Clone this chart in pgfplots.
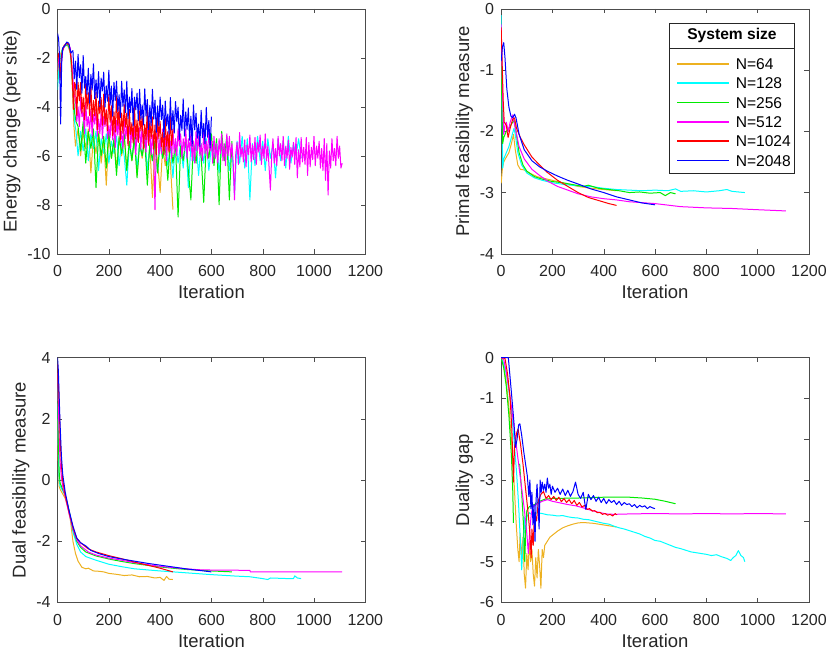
\documentclass[border=0pt]{standalone}
\usepackage{fontspec}
\setmainfont{Liberation Sans}
\usepackage{pgfplots}
\pgfplotsset{compat=1.18}

\definecolor{c64}{RGB}{237,177,32}
\definecolor{c128}{RGB}{0,255,255}
\definecolor{c256}{RGB}{0,235,0}
\definecolor{c512}{RGB}{255,0,255}
\definecolor{c1024}{RGB}{255,0,0}
\definecolor{c2048}{RGB}{0,0,255}
\colorlet{axgray}{black!70}
\colorlet{txtgray}{black!85}
\newcommand\legfont{\fontsize{15.6}{18}\selectfont}

\pgfplotsset{
  panel/.style={
    width=308pt, height=245pt, scale only axis,
    xmin=0, xmax=1200, xtick={0,200,...,1200},
    tick align=inside, major tick length=4.5pt,
    axis line style={axgray}, every tick/.style={axgray},
    tick label style={font=\fontsize{16}{19}\selectfont, text=txtgray},
    xticklabel style={yshift=-8pt},
    yticklabel style={xshift=-3.5pt},
    label style={font=\fontsize{18.5}{22}\selectfont, text=txtgray},
    xlabel={Iteration},
    xlabel style={yshift=-2pt},
    /pgf/number format/assume math mode=true,
    /pgf/number format/1000 sep={},
    every axis plot/.append style={line width=1pt, line join=round},
    unbounded coords=jump,
  }
}

\begin{document}
\begin{tikzpicture}

% ---------------- energy change ----------------
\begin{axis}[panel, at={(0pt,349pt)},
  ymin=-10, ymax=0, ytick={-10,-8,...,0},
  ylabel={Energy change (per site)}]
\addplot[c64] coordinates {(0,-3.0)(5,-2.2)(10,-1.9)(20,-1.6)(30,-1.5)(40,-1.5)(50,-1.8)(58,-3.2)(64,-4.8)
(70,-5.6)(80,-4.9)(90,-6.0)(100,-5.0)(110,-5.7)(120,-4.9)(130,-6.7)(140,-5.2)(150,-5.9)(160,-5.0)
(170,-6.3)(180,-5.3)(190,-7.2)(200,-5.2)(210,-6.1)(220,-5.4)(230,-6.5)(240,-5.3)(250,-6.0)(260,-5.2)
(270,-6.6)(280,-5.4)(290,-6.2)(300,-5.3)(310,-6.8)(320,-5.5)(330,-6.1)(340,-5.4)(350,-6.6)(360,-5.6)
(370,-7.7)(380,-5.5)(390,-6.2)(400,-7.5)(410,-5.6)(420,-6.4)(430,-5.5)(440,-6.3)(450,-8.2)};
\addplot[c128] coordinates {(0,-3.3)(5,-2.5)(10,-2.0)(20,-1.6)(30,-1.5)(40,-1.45)(50,-1.7)(58,-3.0)(66,-4.6)(72,-5.0)
(80,-6.0)(90,-5.0)(100,-5.8)(110,-4.9)(120,-6.2)(130,-5.1)(140,-5.7)(150,-5.0)(160,-6.6)(170,-5.3)
(180,-5.9)(190,-5.1)(200,-6.3)(210,-5.4)(220,-5.9)(230,-5.2)(240,-6.4)(250,-5.4)(260,-6.0)(270,-7.2)
(280,-5.5)(290,-6.1)(300,-5.3)(310,-6.5)(320,-5.5)(330,-6.0)(340,-5.2)(350,-6.6)(360,-5.6)(370,-6.2)
(380,-5.4)(390,-6.7)(400,-5.5)(410,-6.1)(420,-5.3)(430,-6.4)(440,-5.6)(450,-6.9)(460,-5.4)(470,-6.3)
(480,-5.5)(490,-6.5)(500,-5.3)(510,-7.3)(520,-5.6)(530,-6.2)(540,-5.4)(550,-6.8)(560,-5.5)(570,-6.3)
(580,-5.3)(590,-6.6)(600,-5.6)(610,-6.2)(620,-5.4)(630,-6.7)(640,-5.5)(650,-6.1)(660,-5.3)(670,-6.6)
(680,-5.6)(690,-7.6)(700,-5.4)(710,-6.3)(720,-5.2)(730,-6.5)(740,-5.3)(750,-7.8)(760,-5.5)(770,-6.4)
(780,-5.2)(790,-6.2)(800,-5.4)(810,-6.6)(820,-5.3)(830,-6.1)(840,-5.5)(850,-6.9)(860,-5.3)(870,-6.2)
(880,-5.4)(890,-6.5)(900,-5.2)(910,-6.3)(920,-5.5)(930,-6.0)(940,-5.3)(950,-6.1)};
\addplot[c256] coordinates {(0,-2.4)(5,-2.0)(10,-2.8)(18,-1.7)(28,-1.5)(40,-1.45)(50,-1.7)(58,-2.8)(66,-4.2)(72,-4.6)
(80,-4.8)(90,-5.8)(100,-4.6)(110,-6.3)(120,-5.0)(130,-5.7)(140,-4.9)(150,-7.3)(160,-5.1)(170,-6.0)
(180,-5.2)(190,-6.5)(200,-5.0)(210,-6.1)(220,-5.3)(230,-6.8)(240,-5.2)(250,-5.9)(260,-5.1)(270,-6.6)
(280,-5.4)(290,-6.2)(300,-5.2)(310,-6.9)(320,-5.5)(330,-6.0)(340,-5.3)(350,-7.2)(360,-5.5)(370,-6.2)
(380,-5.4)(390,-6.7)(400,-5.3)(410,-6.1)(420,-5.6)(430,-7.0)(440,-5.4)(450,-6.3)(460,-5.5)(470,-8.5)
(480,-5.6)(490,-6.2)(500,-5.3)(510,-6.6)(520,-7.8)(530,-5.4)(540,-6.3)(550,-5.2)(560,-6.0)(570,-7.9)
(580,-5.5)(590,-6.1)(600,-5.1)(610,-6.4)(620,-5.3)(630,-8.0)(640,-5.0)(650,-6.2)(660,-5.2)(670,-7.8)(680,-5.4)};
\addplot[c512] coordinates {(0,-2.5)(6,-1.9)(12,-2.6)(20,-1.7)(30,-1.45)(40,-1.4)(50,-1.6)(58,-2.6)(65,-3.5)
(70,-3.7)(75,-4.6)(80,-4.0)(85,-4.8)(90,-3.6)(95,-4.4)(100,-4.2)(105,-5.1)(110,-3.8)(115,-4.8)
(120,-4.4)(125,-5.0)(130,-4.1)(135,-5.2)(140,-4.3)(145,-4.7)(150,-4.1)(155,-5.2)(160,-4.5)(165,-5.1)
(170,-4.2)(175,-5.3)(180,-4.4)(185,-4.8)(190,-4.1)(195,-5.3)(200,-4.75)(205,-5.25)(210,-4.25)(215,-5.35)
(220,-4.75)(225,-5.65)(230,-4.55)(235,-5.15)(240,-4.45)(245,-5.45)(250,-5.0)(255,-5.7)(260,-4.5)(265,-5.3)
(270,-4.8)(275,-5.5)(280,-4.5)(285,-5.7)(290,-4.9)(295,-5.4)(300,-4.75)(305,-5.95)(310,-5.05)(315,-5.45)
(320,-4.85)(325,-5.75)(330,-4.65)(335,-5.65)(340,-5.15)(345,-5.85)(350,-4.75)(355,-5.55)(360,-5.05)(365,-5.95)
(370,-5.15)(375,-5.85)(380,-8.2)(385,-5.55)(390,-4.95)(395,-5.95)(400,-5.3)(405,-5.9)(410,-4.9)(415,-5.7)
(420,-5.2)(425,-6.2)(430,-5.0)(435,-5.8)(440,-5.4)(445,-6.1)(450,-4.9)(455,-5.9)(460,-5.3)(465,-6.0)
(470,-4.9)(475,-5.6)(480,-5.1)(485,-6.1)(490,-5.3)(495,-5.8)(500,-4.9)(505,-6.1)(510,-5.3)(515,-5.8)
(520,-5.1)(525,-6.2)(530,-5.4)(535,-6.3)(540,-5.0)(545,-5.8)(550,-5.2)(555,-6.0)(560,-5.5)(565,-6.2)
(570,-5.0)(575,-5.9)(580,-5.4)(585,-6.1)(590,-4.9)(595,-5.8)(600,-5.4)(605,-6.3)(610,-5.2)(615,-6.1)
(620,-5.5)(625,-6.3)(630,-5.3)(635,-5.9)(640,-5.1)(645,-6.2)(650,-5.5)(655,-6.4)(660,-5.1)(665,-6.0)
(670,-5.2)(675,-6.1)(680,-5.5)(685,-6.3)(690,-7.8)(695,-5.9)(700,-5.45)(705,-6.35)(710,-5.05)(715,-6.05)
(720,-5.65)(725,-6.25)(730,-5.35)(735,-6.45)(740,-5.55)(745,-5.95)(750,-5.15)(755,-6.25)(760,-5.55)(765,-6.15)
(770,-5.25)(775,-6.35)(780,-5.45)(785,-5.85)(790,-5.15)(795,-6.35)(800,-5.6)(805,-6.1)(810,-5.1)(815,-6.2)
(820,-5.6)(825,-6.5)(830,-7.4)(835,-6.0)(840,-5.3)(845,-6.3)(850,-5.7)(855,-6.4)(860,-5.2)(865,-6.0)
(870,-5.5)(875,-6.2)(880,-5.2)(885,-6.4)(890,-5.6)(895,-6.1)(900,-5.35)(905,-6.55)(910,-5.65)(915,-6.05)
(920,-5.45)(925,-6.35)(930,-5.25)(935,-6.9)(940,-5.75)(945,-6.45)(950,-5.25)(955,-6.25)(960,-5.65)(965,-6.35)
(970,-5.25)(975,-6.8)(980,-5.45)(985,-6.45)(990,-5.65)(995,-6.15)(1000,-5.2)(1005,-6.4)(1010,-5.6)(1015,-6.1)
(1020,-5.4)(1025,-6.5)(1030,-5.7)(1035,-6.6)(1040,-5.3)(1045,-7.0)(1050,-5.5)(1055,-7.6)(1060,-5.8)(1065,-6.5)
(1070,-5.3)(1075,-6.2)(1080,-5.7)(1085,-6.4)(1090,-5.2)(1095,-6.1)(1100,-5.6)(1105,-6.5)(1110,-6.3)};
\addplot[c1024] coordinates {(0,-2.0)(5,-1.8)(10,-2.9)(15,-1.9)(25,-1.5)(35,-1.4)(45,-1.45)(55,-2.2)(62,-4.1)(66,-3.0)
(70,-3.10)(75,-4.35)(80,-3.00)(85,-3.75)(90,-3.00)(95,-4.25)(100,-3.60)(105,-4.53)(110,-3.06)(115,-4.09)
(120,-3.42)(125,-4.35)(130,-3.08)(135,-4.61)(140,-3.74)(145,-4.37)(150,-3.40)(155,-4.93)(160,-3.76)(165,-4.29)
(170,-3.62)(175,-4.75)(180,-3.48)(185,-4.71)(190,-4.14)(195,-4.97)(200,-3.50)(205,-4.63)(210,-3.95)(215,-5.18)
(220,-4.20)(225,-5.03)(230,-3.55)(235,-4.78)(240,-4.00)(245,-5.33)(250,-4.25)(255,-5.08)(260,-3.90)(265,-4.83)
(270,-4.25)(275,-5.58)(280,-4.10)(285,-5.13)(290,-4.65)(295,-5.48)(300,-4.00)(305,-5.32)(310,-4.53)(315,-5.45)
(320,-4.16)(325,-4.98)(330,-4.39)(335,-5.71)(340,-4.72)(345,-5.34)(350,-4.05)(355,-5.57)(360,-4.58)(365,-5.30)
(370,-4.41)(375,-5.73)(380,-4.74)(385,-5.96)(390,-4.27)(395,-5.29)(400,-4.60)(405,-5.62)(410,-5.04)(415,-5.96)
(420,-4.48)(425,-5.60)(430,-5.02)(435,-5.84)(440,-4.36)(445,-5.58)(450,-4.90)};
\addplot[c2048] coordinates {(0,-1.0)(4,-1.2)(8,-2.0)(12,-4.7)(16,-2.2)(20,-1.6)(28,-1.5)(36,-1.35)(44,-1.4)(52,-1.8)
(60,-1.70)(65,-2.86)(70,-2.13)(75,-3.29)(80,-1.85)(85,-2.81)(90,-2.28)(95,-3.44)(100,-1.90)(105,-3.23)
(110,-2.76)(115,-3.49)(120,-2.42)(125,-3.85)(130,-2.68)(135,-3.31)(140,-2.24)(145,-3.67)(150,-2.90)(155,-3.63)
(160,-2.56)(165,-3.99)(170,-2.82)(175,-3.35)(180,-2.58)(185,-4.01)(190,-3.14)(195,-3.77)(200,-2.50)(205,-3.93)
(210,-3.15)(215,-4.38)(220,-3.00)(225,-3.73)(230,-2.95)(235,-4.18)(240,-3.50)(245,-4.43)(250,-2.95)(255,-3.98)
(260,-3.30)(265,-4.23)(270,-2.95)(275,-4.48)(280,-3.60)(285,-4.23)(290,-3.25)(295,-4.78)(300,-3.60)(305,-4.12)
(310,-3.44)(315,-4.56)(320,-3.28)(325,-4.50)(330,-3.92)(335,-4.74)(340,-3.26)(345,-4.38)(350,-3.70)(355,-4.92)
(360,-3.94)(365,-4.76)(370,-3.28)(375,-4.50)(380,-3.72)(385,-5.04)(390,-3.96)(395,-4.78)(400,-3.60)(405,-4.52)
(410,-3.93)(415,-5.25)(420,-3.76)(425,-4.78)(430,-4.29)(435,-5.11)(440,-3.62)(445,-4.94)(450,-4.15)(455,-5.07)
(460,-3.78)(465,-4.60)(470,-4.01)(475,-5.33)(480,-4.34)(485,-4.96)(490,-3.67)(495,-5.19)(500,-4.20)(505,-4.92)
(510,-4.04)(515,-5.36)(520,-4.38)(525,-5.60)(530,-3.92)(535,-4.94)(540,-4.26)(545,-5.28)(550,-4.70)(555,-5.62)
(560,-4.14)(565,-5.26)(570,-4.68)(575,-5.50)(580,-4.02)(585,-5.24)(590,-4.56)(595,-5.68)(600,-4.40)};
\end{axis}

% ---------------- primal feasibility ----------------
\begin{axis}[panel, at={(444pt,349pt)},
  ymin=-4, ymax=0, ytick={-4,-3,...,0},
  ylabel={Primal feasibility measure},
  every axis plot post/.append style={
    legend image code/.code={\draw[##1, line width=1.6pt] (0pt,0pt) -- (52pt,0pt);}},
  legend style={at={(0.5682,0.80)}, anchor=north west, draw=none, fill=none,
    inner sep=0pt, row sep=7.8pt, column sep=6pt,
    nodes={inner sep=0pt, text height=11.5pt, text depth=0pt, text=black}},
  legend cell align=left]
\addplot[c64] coordinates {(0,-2.85)(5,-2.6)(10,-2.5)(20,-2.42)(30,-2.35)(40,-2.2)(48,-2.05)(55,-2.3)(65,-2.55)
(75,-2.62)(90,-2.63)(110,-2.68)(140,-2.74)(180,-2.78)(220,-2.82)(260,-2.86)(300,-2.9)(350,-2.93)(400,-2.95)(450,-2.97)};
\addplot[c128] coordinates {(0,-0.1)(3,-1.5)(6,-2.6)(10,-2.45)(20,-2.35)(30,-2.25)(40,-2.1)(50,-1.95)(55,-2.05)(65,-2.35)
(80,-2.55)(100,-2.68)(130,-2.76)(160,-2.8)(200,-2.84)(250,-2.87)(300,-2.89)(350,-2.9)(400,-2.93)(450,-2.95)
(500,-2.96)(550,-2.97)(600,-2.96)(650,-2.97)(680,-2.94)(700,-2.98)(750,-2.97)(800,-2.99)(850,-2.97)(880,-2.95)
(900,-2.98)(950,-3.0)};
\addplot[c256] coordinates {(0,-0.8)(3,-1.6)(6,-2.2)(10,-2.1)(20,-2.0)(30,-1.95)(40,-1.88)(50,-1.82)(58,-2.0)(70,-2.35)
(85,-2.55)(100,-2.65)(130,-2.74)(160,-2.78)(200,-2.82)(240,-2.84)(280,-2.87)(320,-2.9)(340,-2.88)(380,-2.93)
(420,-2.95)(460,-2.97)(500,-3.0)(540,-2.99)(580,-3.01)(620,-3.0)(640,-3.05)(660,-3.0)(680,-3.02)};
\addplot[c512] coordinates {(0,-0.25)(5,-1.3)(10,-2.05)(15,-1.9)(20,-1.85)(28,-2.0)(35,-1.85)(45,-1.73)(55,-1.95)
(70,-2.25)(90,-2.45)(120,-2.62)(150,-2.72)(180,-2.81)(220,-2.9)(260,-2.96)(300,-3.02)(350,-3.07)(400,-3.1)
(450,-3.12)(500,-3.15)(600,-3.18)(700,-3.23)(800,-3.25)(900,-3.26)(1000,-3.28)(1110,-3.3)};
\addplot[c1024] coordinates {(0,-0.3)(4,-0.9)(8,-1.5)(12,-1.85)(20,-1.9)(27,-2.1)(35,-1.95)(45,-1.8)(52,-1.78)
(60,-1.95)(75,-2.1)(90,-2.22)(120,-2.42)(150,-2.55)(180,-2.67)(220,-2.8)(260,-2.9)(300,-3.0)(340,-3.08)
(380,-3.13)(420,-3.18)(450,-3.21)};
\addplot[c2048] coordinates {(0,-0.85)(5,-0.62)(10,-0.55)(15,-0.8)(22,-1.3)(30,-1.6)(38,-1.75)(45,-1.78)(52,-1.72)
(58,-1.78)(70,-2.05)(90,-2.3)(120,-2.48)(150,-2.58)(180,-2.65)(220,-2.73)(260,-2.8)(300,-2.86)(350,-2.94)
(400,-3.0)(450,-3.07)(500,-3.12)(550,-3.17)(600,-3.2)};
\legend{\legfont N=64,\legfont N=128,\legfont N=256,\legfont N=512,\legfont N=1024,\legfont N=2048}
\draw[black!85, line width=0.8pt] (rel axis cs:0.5455,0.3265) rectangle (rel axis cs:0.9545,0.9429);
\draw[black!85, line width=0.8pt] (rel axis cs:0.5455,0.8408) -- (rel axis cs:0.9545,0.8408);
\node[font=\legfont\bfseries] at (rel axis cs:0.75,0.8918) {System size};
\end{axis}

% ---------------- dual feasibility ----------------
\begin{axis}[panel, at={(0pt,0pt)},
  ymin=-4, ymax=4, ytick={-4,-2,...,4},
  ylabel={Dual feasibility measure}]
\addplot[c64] coordinates {(0,2.0)(3,0.5)(6,-0.2)(10,-0.3)(20,-0.45)(30,-0.6)(40,-0.9)(50,-1.3)(60,-2.0)(70,-2.4)
(80,-2.65)(95,-2.85)(110,-2.9)(120,-2.88)(140,-2.97)(160,-2.98)(180,-3.0)(200,-3.05)(230,-3.08)(260,-3.12)
(290,-3.1)(320,-3.16)(350,-3.15)(380,-3.2)(400,-3.18)(415,-3.28)(425,-3.15)(435,-3.24)(450,-3.25)};
\addplot[c128] coordinates {(0,2.5)(3,1.0)(6,0.0)(10,-0.2)(20,-0.35)(30,-0.5)(45,-1.0)(60,-1.7)(75,-2.1)(90,-2.35)
(110,-2.5)(150,-2.62)(200,-2.75)(250,-2.83)(300,-2.9)(400,-2.97)(500,-3.03)(600,-3.09)(700,-3.14)(750,-3.16)
(800,-3.22)(820,-3.25)(830,-3.2)(900,-3.22)(920,-3.22)(925,-3.13)(935,-3.2)(950,-3.22)};
\addplot[c256] coordinates {(0,3.0)(3,1.5)(6,0.3)(10,-0.1)(20,-0.3)(30,-0.5)(45,-1.0)(60,-1.6)(75,-2.0)(90,-2.2)
(110,-2.35)(150,-2.48)(200,-2.58)(250,-2.66)(300,-2.73)(400,-2.84)(500,-2.92)(600,-2.97)(680,-3.0)};
\addplot[c512] coordinates {(0,3.5)(3,2.5)(6,1.5)(10,0.6)(15,0.1)(20,-0.2)(30,-0.55)(45,-1.1)(60,-1.6)(75,-1.95)
(90,-2.15)(120,-2.35)(150,-2.45)(200,-2.55)(250,-2.62)(300,-2.7)(350,-2.76)(400,-2.82)(450,-2.86)(500,-2.9)
(550,-2.93)(600,-2.94)(750,-2.95)(752,-3.0)(1110,-3.0)};
\addplot[c1024] coordinates {(0,3.8)(3,3.2)(6,2.6)(10,1.4)(15,0.5)(20,0)(30,-0.5)(45,-1.05)(60,-1.55)(75,-1.9)
(90,-2.05)(120,-2.25)(150,-2.35)(200,-2.47)(250,-2.57)(300,-2.68)(350,-2.78)(400,-2.88)(450,-3.0)};
\addplot[c2048] coordinates {(0,4.0)(3,3.6)(6,2.8)(10,1.8)(15,0.8)(20,0.2)(30,-0.4)(45,-1.0)(60,-1.5)(75,-1.9)
(90,-2.05)(110,-2.15)(130,-2.3)(160,-2.4)(200,-2.5)(250,-2.58)(300,-2.65)(350,-2.72)(400,-2.78)(450,-2.84)
(500,-2.9)(550,-2.95)(600,-3.0)};
\end{axis}

% ---------------- duality gap ----------------
\begin{axis}[panel, at={(444pt,0pt)},
  ymin=-6, ymax=0, ytick={-6,-5,...,0},
  ylabel={Duality gap}]
\addplot[c64] coordinates {(0,0)(10,-0.2)(20,-0.6)(30,-1.2)(40,-2.0)(50,-3.0)(58,-4.0)(65,-4.7)(70,-5.0)(74,-4.3)
(80,-4.9)(85,-4.4)(90,-5.3)(95,-5.65)(100,-4.8)(105,-5.2)(110,-4.5)(115,-5.0)(120,-4.7)(125,-5.3)(130,-5.6)
(135,-4.9)(140,-5.4)(145,-4.7)(150,-5.1)(155,-5.65)(160,-4.7)(165,-4.9)(170,-4.6)(180,-4.5)(190,-4.4)
(200,-4.35)(220,-4.25)(240,-4.17)(260,-4.12)(280,-4.08)(300,-4.05)(320,-4.04)(340,-4.05)(360,-4.06)
(380,-4.08)(400,-4.1)(420,-4.12)(440,-4.14)(450,-4.15)};
\addplot[c128] coordinates {(0,0)(10,-0.15)(20,-0.4)(30,-0.8)(40,-1.3)(50,-2.0)(60,-2.8)(68,-3.6)(75,-4.5)(80,-5.2)
(85,-4.6)(90,-3.9)(95,-4.4)(100,-3.9)(110,-3.8)(120,-3.85)(140,-3.8)(160,-3.82)(180,-3.85)(200,-3.86)
(220,-3.88)(240,-3.87)(260,-3.9)(280,-3.92)(300,-3.93)(320,-3.96)(340,-3.97)(360,-4.0)(380,-4.03)(400,-4.06)
(420,-4.08)(440,-4.13)(460,-4.17)(480,-4.2)(500,-4.24)(520,-4.28)(540,-4.32)(560,-4.38)(580,-4.42)(600,-4.48)
(620,-4.5)(640,-4.55)(660,-4.6)(680,-4.65)(700,-4.68)(720,-4.72)(740,-4.76)(760,-4.78)(780,-4.8)(800,-4.82)
(820,-4.85)(840,-4.83)(860,-4.88)(880,-4.92)(895,-4.97)(905,-4.9)(915,-4.85)(925,-4.73)(935,-4.85)(945,-4.9)(950,-5.0)};
\addplot[c256] coordinates {(0,0)(10,-0.25)(20,-0.7)(30,-1.4)(40,-2.4)(45,-3.2)(48,-4.05)(50,nan)
(72,-2.6)(80,-3.3)(88,-4.2)(92,-5.0)(96,-4.2)(100,-3.75)(110,-3.65)(130,-3.6)(150,-3.52)(170,-3.47)(200,-3.45)
(300,-3.44)(400,-3.42)(500,-3.42)(550,-3.44)(600,-3.47)(640,-3.52)(680,-3.58)};
\addplot[c512] coordinates {(0,0)(10,-0.05)(20,-0.35)(30,-0.75)(40,-1.2)(50,-1.7)(60,-2.2)(70,-2.7)(80,-3.2)(90,-3.7)
(100,-4.3)(106,-4.8)(112,-4.2)(118,-3.8)(125,-3.65)(140,-3.58)(160,-3.52)(180,-3.48)(200,-3.52)(230,-3.56)
(260,-3.6)(290,-3.63)(320,-3.68)(350,-3.74)(380,-3.79)(410,-3.83)(440,-3.84)(500,-3.83)(600,-3.82)(700,-3.83)
(800,-3.82)(900,-3.83)(1000,-3.82)(1110,-3.83)};
\addplot[c1024] coordinates {(0,0)(15,-0.02)(25,-0.4)(35,-1.0)(42,-1.8)(48,-3.05)(52,-2.2)(60,-1.85)(66,-1.75)(75,-2.1)
(85,-2.6)(95,-3.2)(105,-3.8)(112,-4.3)(117,-4.9)(120,-4.2)(125,-4.6)(130,-3.8)(138,-4.0)(145,-3.5)(155,-3.35)
(165,-3.28)(175,-3.45)(185,-3.38)(195,-3.48)(205,-3.4)(215,-3.5)(225,-3.42)(235,-3.53)(245,-3.45)(255,-3.55)
(265,-3.48)(275,-3.58)(285,-3.5)(295,-3.62)(305,-3.55)(315,-3.66)(325,-3.62)(335,-3.72)(345,-3.7)(355,-3.76)
(365,-3.75)(375,-3.8)(385,-3.79)(395,-3.84)(405,-3.82)(415,-3.86)(425,-3.84)(435,-3.88)(445,-3.82)(450,-3.85)};
\addplot[c2048] coordinates {(0,0)(28,0)(35,-0.5)(42,-1.0)(50,-1.6)(56,-2.2)(62,-2.0)(68,-1.65)(73,-1.62)(80,-1.9)
(88,-2.3)(95,-2.6)(102,-2.9)(108,-3.4)(112,-3.0)(116,-3.7)(120,-3.3)(124,-4.1)(128,-3.6)(132,-4.5)(136,-3.5)
(140,-3.1)(144,-3.6)(148,-4.2)(152,-3.0)(156,-3.3)(160,-3.05)(165,-3.25)(170,-3.1)(175,-3.3)(180,-2.95)
(185,-3.2)(190,-3.1)(195,-3.35)(200,-3.15)(210,-3.3)(220,-3.2)(230,-3.35)(240,-3.22)(250,-3.38)(260,-3.25)
(270,-3.4)(280,-3.28)(290,-3.05)(300,-3.35)(310,-3.45)(320,-3.3)(330,-3.72)(340,-3.35)(350,-3.48)(360,-3.38)
(370,-3.52)(380,-3.42)(390,-3.55)(400,-3.45)(410,-3.58)(420,-3.48)(430,-3.55)(440,-3.5)(450,-3.6)(460,-3.52)
(470,-3.62)(480,-3.55)(490,-3.6)(500,-3.58)(510,-3.65)(520,-3.6)(530,-3.68)(540,-3.62)(550,-3.66)(560,-3.63)
(570,-3.7)(580,-3.65)(590,-3.68)(600,-3.7)};
\end{axis}
\end{tikzpicture}
\end{document}
